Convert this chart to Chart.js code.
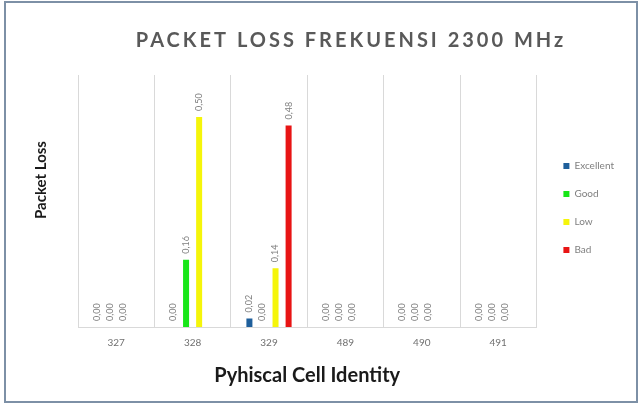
<!DOCTYPE html>
<html><head><meta charset="utf-8">
<script src="https://cdn.jsdelivr.net/npm/chart.js@4"></script>
<style>html,body{margin:0;padding:0;background:#fff;}#wrap{width:641px;height:406px;position:relative;}</style>
</head><body><div id="wrap"><canvas id="c" width="641" height="406"></canvas></div>
<script>
const categories = ['327', '328', '329', '489', '490', '491'];
const seriesNames = ['Excellent', 'Good', 'Low', 'Bad'];
const excellent = [0, 0, 0.02, 0, 0, 0];
const good = [0, 0.16, 0, 0, 0, 0];
const low = [0, 0.50, 0.14, 0, 0, 0];
const bad = [null, null, 0.48, null, null, null];
const titleText = 'PACKET LOSS FREKUENSI 2300 MHz';
const yTitle = 'Packet Loss';
const xTitle = 'Pyhiscal Cell Identity';

const colors = ['#1f5f9b', '#17e617', '#f5f50a', '#e81414'];

const framePlugin = {
  id: 'frame',
  beforeDraw(chart) {
    const ctx = chart.ctx;
    ctx.save();
    ctx.fillStyle = '#ffffff';
    ctx.fillRect(0, 0, chart.width, chart.height);
    ctx.strokeStyle = '#7d90a6';
    ctx.lineWidth = 2;
    ctx.strokeRect(5, 2, 632, 400);
    ctx.restore();
  },
  afterDraw(chart) {
    const ctx = chart.ctx;
    ctx.save();
    ctx.font = 'bold 20px Lato';
    ctx.letterSpacing = '3px';
    ctx.fillStyle = '#595959';
    ctx.textAlign = 'center';
    ctx.textBaseline = 'middle';
    ctx.fillText(titleText, 351, 41);
    ctx.restore();
    ctx.save();
    ctx.translate(41, 180);
    ctx.rotate(-Math.PI / 2);
    ctx.font = 'bold 15px Lato';
    ctx.fillStyle = '#1a1a1a';
    ctx.textAlign = 'center';
    ctx.textBaseline = 'middle';
    ctx.fillText(yTitle, 0, 0);
    ctx.restore();
  }
};

const labelPlugin = {
  id: 'barLabels',
  afterDatasetsDraw(chart) {
    const ctx = chart.ctx;
    chart.data.datasets.forEach((ds, i) => {
      const meta = chart.getDatasetMeta(i);
      meta.data.forEach((bar, j) => {
        const v = ds.data[j];
        if (v === null || v === undefined) return;
        ctx.save();
        ctx.translate(bar.x, bar.y - 6);
        ctx.rotate(-Math.PI / 2);
        ctx.font = '9px Lato';
        ctx.fillStyle = '#808080';
        ctx.textAlign = 'left';
        ctx.textBaseline = 'middle';
        ctx.fillText(v.toFixed(2).replace('.', ','), 0, 0);
        ctx.restore();
      });
    });
  }
};

const seriesData = [excellent, good, low, bad];
new Chart(document.getElementById('c'), {
  type: 'bar',
  data: {
    labels: categories,
    datasets: seriesNames.map((n, i) => ({
      label: n,
      data: seriesData[i],
      backgroundColor: colors[i],
      borderWidth: 0,
      categoryPercentage: 0.684,
      barPercentage: 0.46
    }))
  },
  options: {
    responsive: false,
    animation: false,
    devicePixelRatio: 1,
    layout: { padding: { top: 75, left: 70, right: 17, bottom: 18 } },
    plugins: {
      title: { display: false },
      tooltip: { enabled: false },
      legend: {
        position: 'right',
        align: 'start',
        title: { display: true, text: ' ', font: { family: 'Lato', size: 10 }, padding: { top: 0, bottom: 56 } },
        labels: {
          boxWidth: 6, boxHeight: 6, padding: 18,
          color: '#7f7f7f',
          font: { family: 'Lato', size: 10 }
        }
      }
    },
    scales: {
      x: {
        grid: { display: true, color: '#d9d9d9', drawTicks: false, offset: true },
        border: { display: true, color: '#d9d9d9' },
        ticks: { color: '#707070', font: { family: 'Lato', size: 10 }, padding: 10 },
        title: { display: true, text: xTitle, color: '#1a1a1a', font: { family: 'Lato', size: 20, weight: 'bold' }, padding: { top: 5, bottom: 0 } }
      },
      y: {
        min: 0, max: 0.6,
        grid: { display: false },
        border: { display: false },
        ticks: { display: false },
        title: { display: false }
      },
      gap: {
        position: 'right',
        display: true,
        grid: { display: false },
        border: { display: false },
        ticks: { display: false },
        afterFit(axis) { axis.width = 9; }
      }
    }
  },
  plugins: [framePlugin, labelPlugin]
});
</script></body></html>
